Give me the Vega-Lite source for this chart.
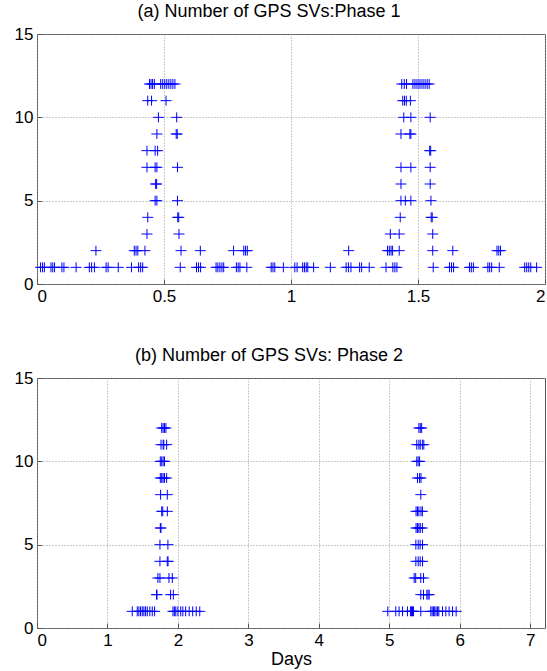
{
 "$schema": "https://vega.github.io/schema/vega-lite/v6.json",
 "background": "white",
 "padding": {"left": 13, "top": 2, "right": 3, "bottom": 2},
 "spacing": 41,
 "config": {
  "font": "Liberation Sans",
  "view": {"stroke": "#555", "strokeWidth": 1},
  "axis": {"labelFont": "Liberation Sans", "labelFontSize": 17, "labelColor": "#000", "grid": true, "gridColor": "#999", "gridDash": [1, 2], "gridOpacity": 1, "domain": false, "tickColor": "#555", "tickSize": -5, "labelPadding": 9, "titleFont": "Liberation Sans", "titleFontSize": 18, "titleFontWeight": "normal", "titleColor": "#000"},
  "title": {"font": "Liberation Sans", "fontSize": 18, "fontWeight": "normal", "color": "#000", "dx": -22, "offset": 0}
 },
 "datasets": {
  "p1": [
   {"d":0.014,"n":1},{"d":0.022,"n":1},{"d":0.029,"n":1},{"d":0.055,"n":1},{"d":0.062,"n":1},{"d":0.069,"n":1},{"d":0.098,"n":1},{"d":0.106,"n":1},{"d":0.154,"n":1},{"d":0.206,"n":1},{"d":0.215,"n":1},{"d":0.226,"n":1},{"d":0.272,"n":1},{"d":0.28,"n":1},{"d":0.32,"n":1},{"d":0.372,"n":1},{"d":0.4,"n":1},{"d":0.408,"n":1},{"d":0.416,"n":1},{"d":0.564,"n":1},{"d":0.628,"n":1},{"d":0.636,"n":1},{"d":0.644,"n":1},{"d":0.705,"n":1},{"d":0.712,"n":1},{"d":0.72,"n":1},{"d":0.728,"n":1},{"d":0.735,"n":1},{"d":0.785,"n":1},{"d":0.792,"n":1},{"d":0.799,"n":1},{"d":0.826,"n":1},{"d":0.922,"n":1},{"d":0.929,"n":1},{"d":0.936,"n":1},{"d":0.97,"n":1},{"d":1.015,"n":1},{"d":1.024,"n":1},{"d":1.046,"n":1},{"d":1.053,"n":1},{"d":1.06,"n":1},{"d":1.066,"n":1},{"d":1.089,"n":1},{"d":1.155,"n":1},{"d":1.217,"n":1},{"d":1.226,"n":1},{"d":1.236,"n":1},{"d":1.27,"n":1},{"d":1.278,"n":1},{"d":1.308,"n":1},{"d":1.374,"n":1},{"d":1.401,"n":1},{"d":1.409,"n":1},{"d":1.417,"n":1},{"d":1.56,"n":1},{"d":1.624,"n":1},{"d":1.632,"n":1},{"d":1.64,"n":1},{"d":1.703,"n":1},{"d":1.71,"n":1},{"d":1.718,"n":1},{"d":1.775,"n":1},{"d":1.782,"n":1},{"d":1.79,"n":1},{"d":1.82,"n":1},{"d":1.92,"n":1},{"d":1.928,"n":1},{"d":1.936,"n":1},{"d":1.944,"n":1},{"d":1.967,"n":1},
   {"d":0.232,"n":2},{"d":0.383,"n":2},{"d":0.39,"n":2},{"d":0.397,"n":2},{"d":0.425,"n":2},{"d":0.567,"n":2},{"d":0.643,"n":2},{"d":0.774,"n":2},{"d":0.814,"n":2},{"d":0.821,"n":2},{"d":0.828,"n":2},{"d":1.227,"n":2},{"d":1.38,"n":2},{"d":1.387,"n":2},{"d":1.394,"n":2},{"d":1.4,"n":2},{"d":1.426,"n":2},{"d":1.558,"n":2},{"d":1.637,"n":2},{"d":1.811,"n":2},{"d":1.818,"n":2},{"d":1.825,"n":2},
   {"d":0.433,"n":3},{"d":0.559,"n":3},{"d":1.391,"n":3},{"d":1.426,"n":3},{"d":1.558,"n":3},
   {"d":0.436,"n":4},{"d":0.554,"n":4},{"d":0.558,"n":4},{"d":1.43,"n":4},{"d":1.552,"n":4},{"d":1.556,"n":4},
   {"d":0.465,"n":5},{"d":0.472,"n":5},{"d":0.553,"n":5},{"d":1.433,"n":5},{"d":1.45,"n":5},{"d":1.472,"n":5},{"d":1.551,"n":5},
   {"d":0.467,"n":6},{"d":0.471,"n":6},{"d":1.433,"n":6},{"d":1.548,"n":6},
   {"d":0.433,"n":7},{"d":0.465,"n":7},{"d":0.472,"n":7},{"d":0.553,"n":7},{"d":1.433,"n":7},{"d":1.472,"n":7},{"d":1.548,"n":7},
   {"d":0.433,"n":8},{"d":0.465,"n":8},{"d":0.475,"n":8},{"d":1.546,"n":8},{"d":1.55,"n":8},
   {"d":0.472,"n":9},{"d":0.548,"n":9},{"d":0.552,"n":9},{"d":1.433,"n":9},{"d":1.468,"n":9},{"d":1.472,"n":9},
   {"d":0.478,"n":10},{"d":0.55,"n":10},{"d":1.444,"n":10},{"d":1.472,"n":10},{"d":1.548,"n":10},
   {"d":0.436,"n":11},{"d":0.451,"n":11},{"d":0.508,"n":11},{"d":1.44,"n":11},{"d":1.447,"n":11},{"d":1.454,"n":11},{"d":1.47,"n":11},
   {"d":0.443,"n":12},{"d":0.449,"n":12},{"d":0.455,"n":12},{"d":0.462,"n":12},{"d":0.487,"n":12},{"d":0.495,"n":12},{"d":0.503,"n":12},{"d":0.511,"n":12},{"d":0.519,"n":12},{"d":0.527,"n":12},{"d":0.535,"n":12},{"d":0.543,"n":12},{"d":1.436,"n":12},{"d":1.446,"n":12},{"d":1.455,"n":12},{"d":1.48,"n":12},{"d":1.488,"n":12},{"d":1.496,"n":12},{"d":1.504,"n":12},{"d":1.512,"n":12},{"d":1.52,"n":12},{"d":1.528,"n":12},{"d":1.536,"n":12},{"d":1.544,"n":12}
  ],
  "p2": [
   {"d":1.352,"n":1},{"d":1.423,"n":1},{"d":1.446,"n":1},{"d":1.47,"n":1},{"d":1.494,"n":1},{"d":1.517,"n":1},{"d":1.541,"n":1},{"d":1.565,"n":1},{"d":1.602,"n":1},{"d":1.636,"n":1},{"d":1.669,"n":1},{"d":1.93,"n":1},{"d":1.95,"n":1},{"d":1.97,"n":1},{"d":2.0,"n":1},{"d":2.04,"n":1},{"d":2.07,"n":1},{"d":2.11,"n":1},{"d":2.16,"n":1},{"d":2.21,"n":1},{"d":2.26,"n":1},{"d":2.31,"n":1},
   {"d":4.979,"n":1},{"d":5.092,"n":1},{"d":5.139,"n":1},{"d":5.187,"n":1},{"d":5.258,"n":1},{"d":5.3,"n":1},{"d":5.315,"n":1},{"d":5.33,"n":1},{"d":5.344,"n":1},{"d":5.447,"n":1},{"d":5.589,"n":1},{"d":5.608,"n":1},{"d":5.627,"n":1},{"d":5.645,"n":1},{"d":5.664,"n":1},{"d":5.685,"n":1},{"d":5.703,"n":1},{"d":5.756,"n":1},{"d":5.803,"n":1},{"d":5.849,"n":1},{"d":5.898,"n":1},{"d":5.949,"n":1},
   {"d":1.697,"n":2},{"d":1.703,"n":2},{"d":1.896,"n":2},{"d":1.935,"n":2},{"d":5.447,"n":2},{"d":5.486,"n":2},{"d":5.533,"n":2},{"d":5.55,"n":2},{"d":5.566,"n":2},
   {"d":1.716,"n":3},{"d":1.745,"n":3},{"d":1.873,"n":3},{"d":1.92,"n":3},{"d":5.353,"n":3},{"d":5.375,"n":3},{"d":5.447,"n":3},{"d":5.486,"n":3},
   {"d":1.745,"n":4},{"d":1.849,"n":4},{"d":1.86,"n":4},{"d":5.377,"n":4},{"d":5.41,"n":4},{"d":5.438,"n":4},{"d":5.472,"n":4},
   {"d":1.745,"n":5},{"d":1.858,"n":5},{"d":5.377,"n":5},{"d":5.41,"n":5},{"d":5.438,"n":5},{"d":5.472,"n":5},
   {"d":1.75,"n":6},{"d":1.76,"n":6},{"d":5.38,"n":6},{"d":5.4,"n":6},{"d":5.42,"n":6},{"d":5.44,"n":6},{"d":5.47,"n":6},
   {"d":1.77,"n":7},{"d":1.785,"n":7},{"d":1.85,"n":7},{"d":5.38,"n":7},{"d":5.4,"n":7},{"d":5.42,"n":7},{"d":5.45,"n":7},{"d":5.47,"n":7},
   {"d":1.754,"n":8},{"d":1.849,"n":8},{"d":5.447,"n":8},
   {"d":1.75,"n":9},{"d":1.77,"n":9},{"d":1.79,"n":9},{"d":1.81,"n":9},{"d":1.84,"n":9},{"d":5.4,"n":9},{"d":5.43,"n":9},{"d":5.45,"n":9},
   {"d":1.75,"n":10},{"d":1.77,"n":10},{"d":1.79,"n":10},{"d":1.81,"n":10},{"d":5.39,"n":10},{"d":5.41,"n":10},{"d":5.43,"n":10},
   {"d":1.76,"n":11},{"d":1.79,"n":11},{"d":1.8,"n":11},{"d":1.84,"n":11},{"d":5.39,"n":11},{"d":5.42,"n":11},{"d":5.44,"n":11},{"d":5.47,"n":11},{"d":5.49,"n":11},
   {"d":1.77,"n":12},{"d":1.79,"n":12},{"d":1.81,"n":12},{"d":1.83,"n":12},{"d":5.42,"n":12},{"d":5.44,"n":12},{"d":5.46,"n":12}
  ]
 },
 "vconcat": [
  {
   "title": "(a) Number of GPS SVs:Phase 1",
   "width": 508, "height": 250,
   "data": {"name": "p1"},
   "mark": {"type": "point", "shape": "M-1,0H1M0,-0.9V0.9", "size": 121, "filled": false, "color": "#0000ff", "strokeWidth": 1, "opacity": 1},
   "encoding": {
    "x": {"field": "d", "type": "quantitative", "scale": {"domain": [0, 2], "nice": false, "zero": false}, "axis": {"values": [0, 0.5, 1, 1.5, 2], "format": "~g", "title": null}},
    "y": {"field": "n", "type": "quantitative", "scale": {"domain": [0, 15], "nice": false}, "axis": {"values": [0, 5, 10, 15], "format": "~g", "title": null}}
   }
  },
  {
   "title": "(b) Number of GPS SVs: Phase 2",
   "width": 508, "height": 250,
   "data": {"name": "p2"},
   "mark": {"type": "point", "shape": "M-1,0H1M0,-0.9V0.9", "size": 121, "filled": false, "color": "#0000ff", "strokeWidth": 1, "opacity": 1},
   "encoding": {
    "x": {"field": "d", "type": "quantitative", "scale": {"domain": [0, 7.21], "nice": false, "zero": false}, "axis": {"values": [0, 1, 2, 3, 4, 5, 6, 7], "format": "~g", "title": "Days", "titlePadding": 2}},
    "y": {"field": "n", "type": "quantitative", "scale": {"domain": [0, 15], "nice": false}, "axis": {"values": [0, 5, 10, 15], "format": "~g", "title": null}}
   }
  }
 ]
}
